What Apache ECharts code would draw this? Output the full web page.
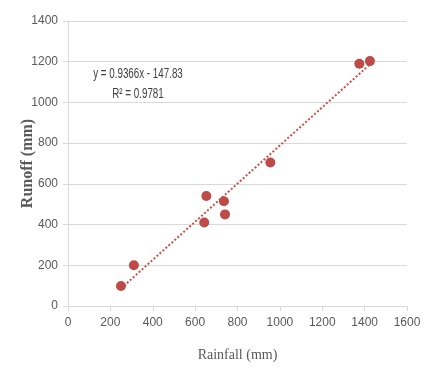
<!DOCTYPE html>
<html><head><meta charset="utf-8">
<script src="https://cdn.jsdelivr.net/npm/echarts@6/dist/echarts.min.js"></script>
<style>html,body{margin:0;padding:0;background:#fff}#c{width:433px;height:371px}</style>
</head><body><div id="c"></div>
<script>
const rainfall = [250, 311, 643, 653, 736, 741, 955, 1375, 1425];
const runoff   = [98, 200, 410, 540, 515, 450, 705, 1190, 1203];
const trendX = [250, 1425];
const trendY = [86, 1187];
const xTicks = [0, 200, 400, 600, 800, 1000, 1200, 1400, 1600];
const yTicks = [0, 200, 400, 600, 800, 1000, 1200, 1400];
const eqText = 'y = 0.9366x - 147.83';
const r2Text = 'R² = 0.9781';

const chart = echarts.init(document.getElementById('c'), null, {renderer:'canvas'});
const FF = '"Liberation Sans Narrow", "Arial Narrow", "Liberation Sans", sans-serif';
const labelFont = {color:'#595959', fontFamily:FF, fontSize:12, formatter:v=>String(v)};
chart.setOption({
  animation:false,
  grid:{left:68, right:26, top:21, bottom:65},
  xAxis:{type:'value', min:xTicks[0], max:xTicks[xTicks.length-1], interval:200,
    name:'Rainfall (mm)', nameLocation:'middle', nameGap:42, nameMoveOverlap:false,
    nameTextStyle:{color:'#595959', fontFamily:'Liberation Serif', fontSize:14},
    axisLine:{show:true, lineStyle:{color:'#d9d9d9'}},
    axisTick:{show:true, length:5, lineStyle:{color:'#d9d9d9'}},
    axisLabel:Object.assign({margin:11}, labelFont),
    splitLine:{show:false}},
  yAxis:{type:'value', min:yTicks[0], max:yTicks[yTicks.length-1], interval:200,
    name:'Runoff (mm)', nameLocation:'middle', nameGap:32, nameMoveOverlap:false,
    nameTextStyle:{color:'#595959', fontFamily:'Liberation Serif', fontSize:16, fontWeight:'bold'},
    axisLine:{show:true, lineStyle:{color:'#d9d9d9'}},
    axisTick:{show:true, length:5, lineStyle:{color:'#d9d9d9'}},
    axisLabel:Object.assign({margin:10}, labelFont),
    splitLine:{show:true, lineStyle:{color:'#d9d9d9', width:1}}},
  graphic:[
    {type:'text', x:138, y:74, scaleX:0.7, style:{text:eqText, x:0, y:0, textAlign:'center', textVerticalAlign:'middle', fill:'#404040', font:'14px ' + FF}},
    {type:'text', x:138, y:94, scaleX:0.7, style:{text:r2Text, x:0, y:0, textAlign:'center', textVerticalAlign:'middle', fill:'#404040', font:'14px ' + FF}}
  ],
  series:[
    {type:'line', data:trendX.map((x,i)=>[x,trendY[i]]), symbol:'none', z:1,
      lineStyle:{color:'#c9504c', width:2, type:[2,2]}},
    {type:'scatter', data:rainfall.map((x,i)=>[x,runoff[i]]), symbol:'circle', symbolSize:10, z:3,
      itemStyle:{color:'#be4b48', opacity:1}}
  ]
});
</script></body></html>
